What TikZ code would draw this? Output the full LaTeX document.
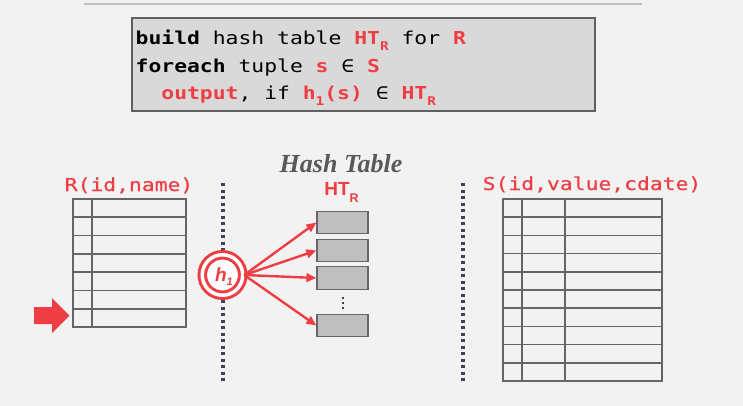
\documentclass[tikz,border=0pt]{standalone}
\usepackage{fontspec}
\usetikzlibrary{arrows.meta}
\newfontfamily\codefont[FakeStretch=1.2]{DejaVu Sans Mono}
\newfontfamily\lblfont[FakeStretch=1.2,FakeBold=0.5]{DejaVu Sans Mono}
\newfontfamily\sansf{Liberation Sans}
\newfontfamily\seriff{Liberation Serif}
\definecolor{hred}{RGB}{238,62,68}
\definecolor{bgc}{RGB}{242,242,242}
\definecolor{boxfill}{RGB}{217,217,217}
\definecolor{boxline}{RGB}{96,96,96}
\definecolor{tline}{RGB}{102,102,102}
\definecolor{dotc}{RGB}{64,64,88}
\definecolor{htfill}{RGB}{191,191,191}
\definecolor{titlec}{RGB}{89,89,89}
\definecolor{topline}{RGB}{190,190,190}
\newcommand\rd[1]{\textcolor{hred}{\bfseries #1}}
\newcommand\sbs[1]{\raisebox{-5.5pt}{\fontsize{12}{12}\selectfont #1}}
\tikzset{
  codebox/.style={draw=boxline, fill=boxfill, line width=2.4pt, inner sep=0pt},
  codeline/.style={anchor=base west, inner sep=0pt, font=\codefont\fontsize{17.8}{20}\selectfont},
  lbl/.style={anchor=base, inner sep=0pt, text=hred, font=\lblfont\fontsize{17.8}{20}\selectfont},
  tbl/.style={draw=tline, line width=1.7pt, inner sep=0pt},
  tblline/.style={draw=tline, line width=1.7pt},
  dotline/.style={draw=dotc, line width=3.2pt, dash pattern=on 3.2pt off 3.3pt},
  htbox/.style={draw=tline, fill=htfill, line width=1.2pt, minimum width=51pt, minimum height=22.5pt, inner sep=0pt},
  hcirc/.style={circle, draw=hred, double=white, double distance=3.5pt, line width=3pt, fill=white, minimum size=40.5pt, inner sep=0pt},
  harrow/.style={draw=hred, line width=2.4pt, -{Triangle[length=10pt,width=8.5pt]}},
}
\begin{document}
\begin{tikzpicture}[x=1pt,y=-1pt]
\fill[bgc] (0,0) rectangle (743,406);
\useasboundingbox (0,0) rectangle (743,406);
% top rule
\coordinate (tl) at (84,4);
\coordinate (tr) at (642,4);
\draw[topline, line width=1.8pt] (tl) -- (tr);
% code box
\node[codebox, minimum width=462.6pt, minimum height=92.6pt] (code) at (363.5,64.5) {};
\node[codeline] (l1) at (135.5,45) {{\bfseries build} hash table \rd{HT\sbs{R}} for \rd{R}};
\node[codeline] (l2) at (135.5,72.5) {{\bfseries foreach} tuple \rd{s} ∈ \rd{S}};
\node[codeline] (l3) at (161.2,100) {\rd{output}, if \rd{h\sbs{1}(s)} ∈ \rd{HT\sbs{R}}};
% dotted separators
\coordinate (d1a) at (223,183);
\coordinate (d1b) at (223,383);
\coordinate (d2a) at (463,183);
\coordinate (d2b) at (463,383);
\draw[dotline] (d1a) -- (d1b);
\draw[dotline] (d2a) -- (d2b);
% R table
\node[lbl] (rlbl) at (129,191) {R(id,name)};
\node[tbl, minimum width=113pt, minimum height=128pt] (R) at (129.5,263) {};
\foreach \i in {1,...,6} \draw[tblline] (73,{199+\i*18.2857}) -- (186,{199+\i*18.2857});
\draw[tblline] (92,199) -- (92,327);
% S table
\node[lbl] (slbl) at (592,190) {S(id,value,cdate)};
\node[tbl, minimum width=159pt, minimum height=182pt] (S) at (582.5,290) {};
\foreach \i in {1,...,9} \draw[tblline] (503,{199+\i*18.2}) -- (662,{199+\i*18.2});
\draw[tblline] (522,199) -- (522,381);
\draw[tblline] (565,199) -- (565,381);
% input arrow
\fill[hred] (34,307) -- (52,307) -- (52,298) -- (69.5,315.5) -- (52,333) -- (52,324) -- (34,324) -- cycle;
% hash table
\node[anchor=base, inner sep=0pt, text=titlec, font=\seriff\bfseries\itshape\fontsize{26}{28}\selectfont] (htt) at (341,172) {Hash Table};
\node[anchor=base, inner sep=0pt, text=hred, font=\sansf\bfseries\fontsize{19}{20}\selectfont] (htr) at (341.5,195) {HT\raisebox{-7pt}{\fontsize{12.5}{12.5}\selectfont R}};
\node[htbox] (b1) at (342.5,222.5) {};
\node[htbox] (b2) at (342.5,250.5) {};
\node[htbox] (b3) at (342.5,278) {};
\node[htbox] (b4) at (342.5,325.5) {};
\foreach \yy in {298,303,308} \fill (343,\yy) circle (1.1pt);
% hash function
\node[hcirc] (h1) at (222.5,275) {};
\node[anchor=base, inner sep=0pt, text=hred, font=\sansf\bfseries\itshape\fontsize{19}{19}\selectfont] (h1t) at (224,281) {h\raisebox{-4pt}{\fontsize{11}{11}\selectfont 1}};
\draw[harrow] (h1.east) -- (b1.west);
\draw[harrow] (h1.east) -- (b2.west);
\draw[harrow] (h1.east) -- (b3.west);
\draw[harrow] (h1.east) -- (b4.west);
\end{tikzpicture}
\end{document}
